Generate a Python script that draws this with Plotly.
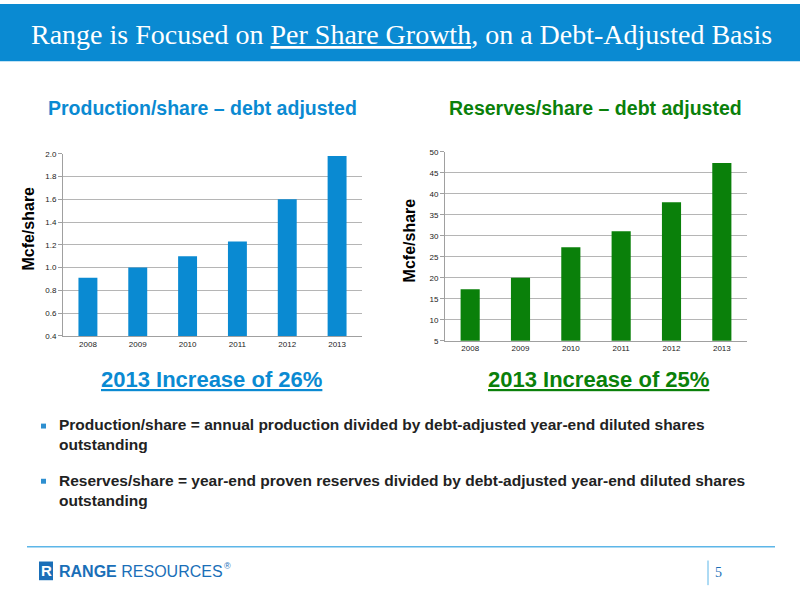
import plotly.graph_objects as go

years = ["2008", "2009", "2010", "2011", "2012", "2013"]
production_per_share = [0.91, 1.00, 1.10, 1.23, 1.60, 1.98]
reserves_per_share = [17.3, 20.0, 27.3, 31.1, 38.0, 47.3]

BLUE = "#0a8ad2"
GREEN = "#0a800a"
W, H = 800, 600

def px(x):
    return x / W

def py(y):
    return 1 - y / H

fig = go.Figure()
fig.add_trace(go.Bar(x=years, y=production_per_share, marker=dict(color=BLUE, line=dict(width=0)),
                     width=0.38, xaxis="x", yaxis="y", showlegend=False, hoverinfo="x+y"))
fig.add_trace(go.Bar(x=years, y=reserves_per_share, marker=dict(color=GREEN, line=dict(width=0)),
                     width=0.38, xaxis="x2", yaxis="y2", showlegend=False, hoverinfo="x+y"))

tickfont = dict(family="Liberation Sans, Arial", size=8, color="#222")
common_x = dict(showgrid=False, showline=True, linecolor="#a0a0a0", linewidth=1, ticks="",
                tickfont=tickfont, fixedrange=True)
common_y = dict(showgrid=True, gridcolor="#b5b5b5", gridwidth=1, showline=True, linecolor="#a0a0a0",
                linewidth=1, tickfont=tickfont, zeroline=False, ticks="outside", ticklen=4,
                tickcolor="#a0a0a0", fixedrange=True)

fig.update_layout(
    width=W, height=H,
    margin=dict(l=0, r=0, t=0, b=0),
    paper_bgcolor="white", plot_bgcolor="white",
    xaxis=dict(domain=[px(63), px(362)], anchor="y", **common_x),
    yaxis=dict(domain=[py(337), py(152)], anchor="x", range=[0.4, 2.0], dtick=0.2,
               tickformat=".1f", **common_y),
    xaxis2=dict(domain=[px(445), px(747)], anchor="y2", **common_x),
    yaxis2=dict(domain=[py(342), py(150)], anchor="x2", range=[5, 50], dtick=5, **common_y),
)

shapes = []
# header band
shapes.append(dict(type="rect", xref="paper", yref="paper", x0=0, x1=1, y0=py(58), y1=1,
                   fillcolor=BLUE, line=dict(width=0), layer="below"))
# footer line
shapes.append(dict(type="line", xref="paper", yref="paper", x0=px(27), x1=px(775), y0=py(551), y1=py(551),
                   line=dict(color="#5db6e8", width=1.5)))
# page number divider
shapes.append(dict(type="line", xref="paper", yref="paper", x0=px(708), x1=px(708), y0=py(565), y1=py(590),
                   line=dict(color="#5db6e8", width=1)))
# bullets
for by in (428, 484):
    shapes.append(dict(type="rect", xref="paper", yref="paper", x0=px(41), x1=px(46), y0=py(by + 3),
                       y1=py(by - 2), fillcolor="#2e8fd0", line=dict(width=0)))
# logo icon
shapes.append(dict(type="rect", xref="paper", yref="paper", x0=px(39), x1=px(53), y0=py(585), y1=py(566),
                   fillcolor="#1a6fb8", line=dict(width=0)))
fig.update_layout(shapes=shapes)

ann = []
def text(x, y, s, size, color, family="Liberation Sans, Arial", xanchor="center", textangle=0,
         yanchor="middle", align="center"):
    ann.append(dict(xref="paper", yref="paper", x=px(x), y=py(y), text=s, showarrow=False,
                    font=dict(family=family, size=size, color=color), xanchor=xanchor, yanchor=yanchor,
                    textangle=textangle, align=align))

text(402, 31, "Range is Focused on <u>Per Share Growth</u>, on a Debt-Adjusted Basis", 28, "white",
     family="Liberation Serif, Times New Roman, serif")
text(202, 106, "<b>Production/share – debt adjusted</b>", 19.5, BLUE)
text(595, 106, "<b>Reserves/share – debt adjusted</b>", 19.5, GREEN)
text(29, 228, "<b>Mcfe/share</b>", 16, "black", textangle=-90)
text(409, 240, "<b>Mcfe/share</b>", 16, "black", textangle=-90)
text(211, 381, "<b><u>2013 Increase of 26%</u></b>", 22, BLUE)
text(598, 381, "<b><u>2013 Increase of 25%</u></b>", 22, GREEN)
text(57, 437, "<b>Production/share = annual production divided by debt-adjusted year-end diluted shares<br>outstanding</b>",
     15.5, "#222", xanchor="left", align="left")
text(57, 494, "<b>Reserves/share = year-end proven reserves divided by debt-adjusted year-end diluted shares<br>outstanding</b>",
     15.5, "#222", xanchor="left", align="left")
text(46, 575, "<b>R</b>", 15, "white")
text(57, 576, "<b>RANGE</b> RESOURCES", 16, "#1a6fb8", xanchor="left")
text(228, 571, "®", 9, "#1a6fb8")
text(718, 577, "5", 14, "#1a6fb8", family="Liberation Serif, serif")
fig.update_layout(annotations=ann)

fig.write_html("out.html", config={"displayModeBar": False},
               post_script="document.body.style.margin='0';document.body.style.overflow='hidden';")
